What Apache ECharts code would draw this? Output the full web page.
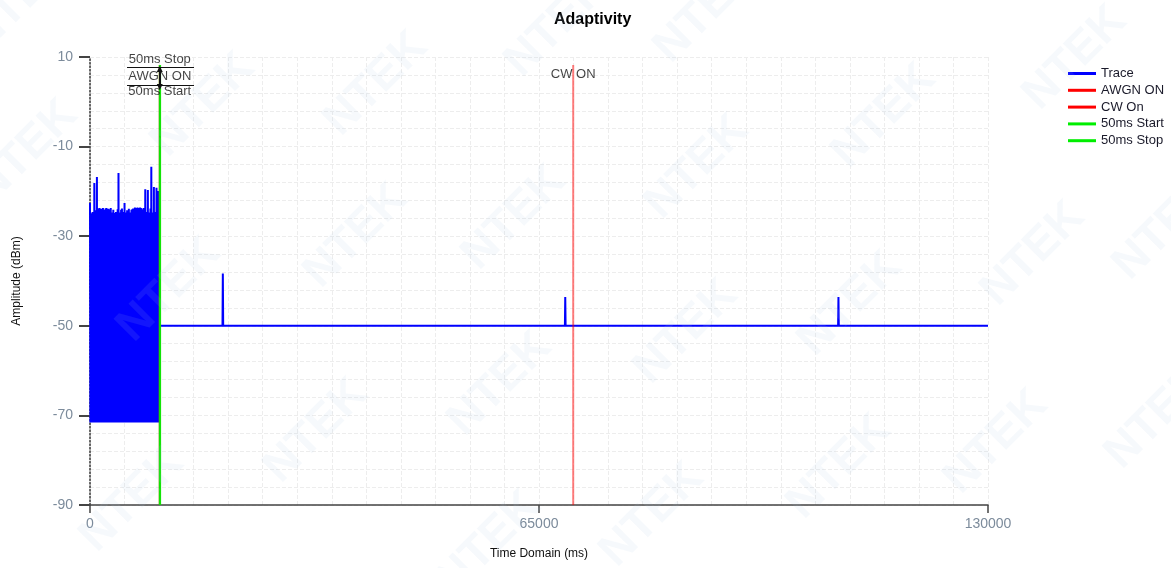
<!DOCTYPE html>
<html>
<head>
<meta charset="utf-8">
<title>Adaptivity</title>
<script src="https://cdn.jsdelivr.net/npm/echarts@6.0.0/dist/echarts.min.js"></script>
<style>
  html, body { margin: 0; padding: 0; background: #fff; }
  #chart { width: 1171px; height: 568px; }
</style>
</head>
<body>
<div id="chart"></div>
<script>
// AWGN burst: one top value every 125 ms, bottom stays on the noise floor
const noiseStep = 125;
const noiseFloor = -71.6;
const noiseTop = [
  -22.6, -24.9, -25.1, -24.6, -24.8, -18.1, -24.7, -24.2, -16.8, -24.9,
  -23.8, -23.7, -24.6, -23.9, -24.8, -23.7, -24.1, -25.0, -23.8, -23.7,
  -24.6, -23.9, -24.9, -24.0, -23.7, -24.8, -24.7, -24.1, -25.0, -24.8,
  -24.6, -24.9, -24.0, -15.9, -24.8, -24.7, -24.1, -23.8, -24.9, -24.6,
  -22.6, -24.7, -25.0, -24.2, -24.8, -23.9, -24.7, -24.9, -24.1, -24.0,
  -23.8, -24.6, -23.6, -23.7, -24.5, -23.6, -23.7, -24.8, -23.6, -23.7,
  -24.0, -24.7, -23.7, -24.9, -19.5, -24.8, -24.6, -19.7, -24.7, -24.9,
  -23.8, -14.5, -24.8, -24.7, -19.0, -24.9, -24.6, -19.2, -24.5, -19.9
];

// trace after the burst
const traceTimes  = [10020, 10050, 19180, 19230, 19280, 68750, 68800, 68850, 108300, 108350, 108400, 130000];
const traceValues = [-71.6, -50, -50, -38.3, -50, -50, -43.6, -50, -50, -43.6, -50, -50];

// vertical event markers
const markerNames  = ['AWGN ON', 'CW On', '50ms Start', '50ms Stop'];
const markerColors = ['#ff0000', '#ff0000', '#00ee00', '#00ee00'];
const markerTimes  = [10100, 69950, 10100, 10150];
const markerTop = 8.2;

// text annotations
const noteTexts  = ['50ms Stop', 'AWGN ON', '50ms Start', 'CW ON'];
const noteTimes  = [10100, 10100, 10100, 69950];
const noteValues = [9.55, 5.76, 2.25, 6.0];
const ruleValues = [7.77, 3.75];
const ruleFrom = 5360, ruleTo = 15060;
const arrowValues = [7.3, 3.3];

const yTicks = [-90, -70, -50, -30, -10, 10];
const xTicks = [0, 65000, 130000];

const FONT = 'Liberation Sans, Arial, sans-serif';

const tracePoints = [];
noiseTop.forEach((v, i) => {
  tracePoints.push([i * noiseStep, v]);
  tracePoints.push([i * noiseStep + noiseStep / 2, noiseFloor]);
});
traceTimes.forEach((t, i) => tracePoints.push([t, traceValues[i]]));

const markerSeries = markerNames.map((name, i) => ({
  name: name,
  type: 'line',
  data: [[markerTimes[i], markerTop], [markerTimes[i], -90]],
  symbol: 'none',
  itemStyle: { color: markerColors[i] },
  lineStyle: { color: markerColors[i], width: 2, opacity: name === 'CW On' ? 0.5 : 0.8 },
  z: name === 'AWGN ON' ? 3 : 4
}));

const waterSpots = [
  [20, 0], [26, 152], [203, 105], [376, 84], [557, 25], [706, 11],
  [169, 290], [356, 236], [514, 218], [697, 167], [884, 116], [1075, 58],
  [316, 431], [500, 384], [686, 332], [850, 304], [1033, 254], [1165, 228],
  [132, 500], [489, 543], [652, 515], [839, 467], [996, 442], [1157, 417]
];

const chart = echarts.init(document.getElementById('chart'));
chart.setOption({
  animation: false,
  backgroundColor: '#fff',
  textStyle: { fontFamily: FONT },
  title: {
    text: 'Adaptivity',
    left: 549,
    top: 7,
    textStyle: { fontSize: 16, fontWeight: 'bold', color: '#000', fontFamily: FONT }
  },
  legend: {
    orient: 'vertical',
    left: 1063,
    top: 62,
    itemWidth: 28,
    itemHeight: 3,
    itemGap: 3.8,
    icon: 'rect',
    data: ['Trace', 'AWGN ON', 'CW On', '50ms Start', '50ms Stop'],
    textStyle: { fontSize: 13, color: '#1a1a2a', fontFamily: FONT }
  },
  grid: { left: 90, right: 183, top: 57, bottom: 63 },
  xAxis: [{
    type: 'value',
    min: 0,
    max: 130000,
    name: 'Time Domain (ms)',
    nameLocation: 'middle',
    nameGap: 43,
    nameTextStyle: { fontSize: 12, color: '#111' },
    axisLine: { onZero: false, lineStyle: { color: '#444', width: 1.5 } },
    axisTick: { show: true, length: 8, customValues: xTicks, lineStyle: { color: '#444', width: 1.5 } },
    axisLabel: { customValues: xTicks, margin: 12, fontSize: 14, color: '#7c8b9b', formatter: v => String(v) },
    splitLine: { show: false }
  }, {
    type: 'value',
    min: 0,
    max: 130000,
    interval: 5000,
    axisLine: { show: false },
    axisTick: { show: false },
    axisLabel: { show: false },
    splitLine: { show: true, lineStyle: { color: '#ededed', type: [4, 2] } }
  }],
  yAxis: [{
    type: 'value',
    min: -90,
    max: 10,
    name: 'Amplitude (dBm)',
    nameLocation: 'middle',
    nameGap: 67,
    nameTextStyle: { fontSize: 12, color: '#111' },
    axisLine: { show: true, onZero: false, lineStyle: { color: '#333', width: 1.5, type: [1.5, 2] } },
    axisTick: { show: true, length: 11, customValues: yTicks, lineStyle: { color: '#444', width: 2 } },
    axisLabel: { customValues: yTicks, margin: 17, fontSize: 14, color: '#7c8b9b' },
    splitLine: { show: false }
  }, {
    type: 'value',
    min: 0,
    max: 100,
    interval: 4,
    axisLine: { show: false },
    axisTick: { show: false },
    axisLabel: { show: false },
    splitLine: { show: true, lineStyle: { color: '#ededed', type: [4, 2] } }
  }],
  series: [{
    name: 'Trace',
    type: 'line',
    data: tracePoints,
    symbol: 'none',
    itemStyle: { color: '#0000ff' },
    lineStyle: { color: '#0000ff', width: 2 },
    z: 2
  }].concat(markerSeries, [{
    name: 'notes',
    type: 'scatter',
    data: noteTexts.map((s, i) => [noteTimes[i], noteValues[i], s]),
    symbolSize: 0,
    label: {
      show: true,
      position: 'inside',
      formatter: p => p.data[2],
      fontSize: 13,
      color: '#111',
      fontFamily: FONT
    },
    z: 5,
    markLine: {
      silent: true,
      symbol: 'none',
      label: { show: false },
      lineStyle: { color: '#111', width: 1, type: 'solid' },
      data: ruleValues.map(v => [{ coord: [ruleFrom, v] }, { coord: [ruleTo, v] }]).concat([
        [{ coord: [10100, arrowValues[0]], symbol: 'triangle', symbolSize: 6 },
         { coord: [10100, arrowValues[1]], symbol: 'triangle', symbolSize: 6, lineStyle: { width: 2 } }]
      ])
    }
  }]),
  graphic: waterSpots.map(p => ({
    type: 'text',
    x: p[0],
    y: p[1],
    rotation: Math.PI / 4,
    z: 100,
    silent: true,
    style: {
      text: 'NTEK',
      font: 'bold 46px ' + FONT,
      fill: 'rgba(170,200,230,0.11)',
      align: 'center',
      verticalAlign: 'middle'
    }
  }))
});
</script>
</body>
</html>
